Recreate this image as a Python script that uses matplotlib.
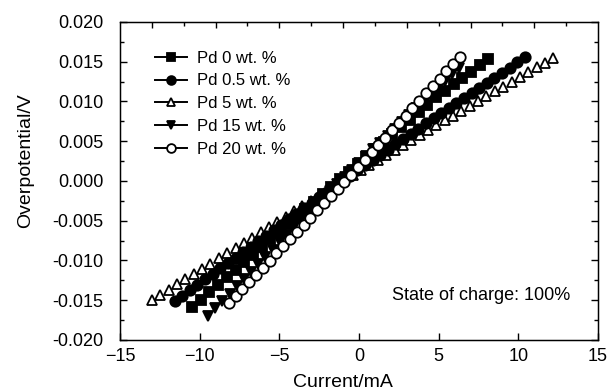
import matplotlib
matplotlib.use('Agg')
import matplotlib.pyplot as plt
from matplotlib.lines import Line2D
from matplotlib.ticker import MultipleLocator, FixedLocator, NullFormatter

plt.rcParams['font.family'] = ['Liberation Sans', 'DejaVu Sans']
plt.rcParams['font.size'] = 13

# Pd 0 wt. %
i_pd0 = [-10.48, -9.93, -9.39, -8.84, -8.29, -7.75, -7.20, -6.65, -6.10, -5.56,
         -5.01, -4.46, -3.92, -3.37, -2.82, -2.28, -1.73, -1.18, -0.64, -0.09,
         0.46, 1.00, 1.55, 2.10, 2.65, 3.19, 3.74, 4.29, 4.83, 5.38,
         5.93, 6.47, 7.02, 7.57, 8.12]
v_pd0 = [-0.01588, -0.01493, -0.01400, -0.01304, -0.01209, -0.01116, -0.01021,
         -0.00926, -0.00830, -0.00737, -0.00642, -0.00547, -0.00453, -0.00358,
         -0.00263, -0.00170, -0.00074, 0.00021, 0.00114, 0.00208, 0.00303,
         0.00396, 0.00490, 0.00585, 0.00679, 0.00772, 0.00867, 0.00961,
         0.01054, 0.01135, 0.01216, 0.01295, 0.01376, 0.01457, 0.01538]

# Pd 0.5 wt. %
i_pd05 = [-11.57, -11.09, -10.61, -10.14, -9.66, -9.18, -8.70, -8.23, -7.75, -7.27,
          -6.79, -6.31, -5.84, -5.36, -4.88, -4.40, -3.93, -3.45, -2.97, -2.49,
          -2.01, -1.54, -1.06, -0.58, -0.10, 0.38, 0.86, 1.33, 1.81, 2.29,
          2.77, 3.24, 3.72, 4.20, 4.68, 5.16, 5.63, 6.11, 6.59, 7.07,
          7.55, 8.02, 8.50, 8.98, 9.46, 9.94, 10.42]
v_pd05 = [-0.01515, -0.01446, -0.01377, -0.01309, -0.01240, -0.01171, -0.01102,
          -0.01034, -0.00965, -0.00896, -0.00827, -0.00757, -0.00690, -0.00621,
          -0.00552, -0.00482, -0.00415, -0.00346, -0.00276, -0.00207, -0.00138,
          -0.00071, -0.00001, 0.00065, 0.00131, 0.00197, 0.00264, 0.00328,
          0.00395, 0.00461, 0.00527, 0.00592, 0.00658, 0.00725, 0.00791,
          0.00855, 0.00917, 0.00981, 0.01045, 0.01109, 0.01173, 0.01235,
          0.01299, 0.01363, 0.01426, 0.01490, 0.01554]

# Pd 5 wt. %
i_pd5 = [-13.0, -12.47, -11.95, -11.42, -10.9, -10.37, -9.85, -9.32, -8.8, -8.27,
         -7.75, -7.22, -6.7, -6.17, -5.65, -5.12, -4.6, -4.07, -3.55, -3.02,
         -2.5, -1.97, -1.45, -0.92, -0.4, 0.13, 0.65, 1.18, 1.7, 2.23,
         2.75, 3.28, 3.8, 4.33, 4.85, 5.38, 5.9, 6.43, 6.95, 7.48,
         8.0, 8.53, 9.05, 9.58, 10.1, 10.63, 11.15, 11.68, 12.2]
v_pd5 = [-0.01500, -0.01434, -0.01369, -0.01303, -0.01238, -0.01171, -0.01106,
         -0.01040, -0.00975, -0.00909, -0.00844, -0.00778, -0.00713, -0.00646,
         -0.00581, -0.00515, -0.00450, -0.00384, -0.00319, -0.00253, -0.00188,
         -0.00121, -0.00056, 0.00010, 0.00072, 0.00136, 0.00198, 0.00262,
         0.00324, 0.00388, 0.00450, 0.00514, 0.00576, 0.00640, 0.00700,
         0.00761, 0.00821, 0.00882, 0.00943, 0.01004, 0.01064, 0.01125,
         0.01186, 0.01247, 0.01307, 0.01368, 0.01428, 0.01489, 0.01550]

# Pd 15 wt. %
i_pd15 = [-9.47, -9.02, -8.57, -8.12, -7.67, -7.22, -6.77, -6.32, -5.87, -5.42,
          -4.96, -4.51, -4.06, -3.61, -3.16, -2.71, -2.26, -1.81, -1.36, -0.91,
          -0.46, -0.01, 0.44, 0.89, 1.34, 1.80, 2.25, 2.70, 3.15, 3.60,
          4.05, 4.50, 4.95, 5.40, 5.85, 6.30]
v_pd15 = [-0.01695, -0.01603, -0.01511, -0.01419, -0.01326, -0.01234, -0.01142,
          -0.01050, -0.00957, -0.00865, -0.00771, -0.00679, -0.00586, -0.00494,
          -0.00402, -0.00310, -0.00217, -0.00125, -0.00033, 0.00055, 0.00141,
          0.00226, 0.00312, 0.00397, 0.00483, 0.00570, 0.00656, 0.00741,
          0.00827, 0.00912, 0.00998, 0.01083, 0.01169, 0.01254, 0.01340, 0.01425]

# Pd 20 wt. %
i_pd20 = [-8.17, -7.74, -7.32, -6.89, -6.46, -6.04, -5.61, -5.18, -4.76, -4.33,
          -3.90, -3.48, -3.05, -2.62, -2.20, -1.77, -1.34, -0.92, -0.49, -0.06,
          0.37, 0.79, 1.22, 1.65, 2.07, 2.50, 2.93, 3.35, 3.78, 4.21,
          4.63, 5.06, 5.49, 5.91, 6.34]
v_pd20 = [-0.01542, -0.01452, -0.01363, -0.01272, -0.01182, -0.01093, -0.01002,
          -0.00912, -0.00823, -0.00732, -0.00641, -0.00553, -0.00462, -0.00371,
          -0.00283, -0.00192, -0.00101, -0.00013, 0.00080, 0.00174, 0.00267,
          0.00358, 0.00451, 0.00545, 0.00636, 0.00729, 0.00822, 0.00914,
          0.01007, 0.01100, 0.01191, 0.01285, 0.01378, 0.01469, 0.01562]

labels = ['Pd 0 wt. %', 'Pd 0.5 wt. %', 'Pd 5 wt. %', 'Pd 15 wt. %', 'Pd 20 wt. %']
markers = ['s', 'o', '^', 'v', 'o']
fills = ['black', 'black', 'white', 'black', 'white']
series = [(i_pd0, v_pd0), (i_pd05, v_pd05), (i_pd5, v_pd5),
          (i_pd15, v_pd15), (i_pd20, v_pd20)]

fig = plt.figure(figsize=(6.09, 3.92), dpi=100)
ax = fig.add_axes([0.197, 0.133, 0.785, 0.811])

# draw order so open circles and triangles sit on top like the original
order = [2, 1, 0, 3, 4]
for k in order:
    x, y = series[k]
    ax.plot(x, y, linestyle='none', marker=markers[k], markersize=7.5,
            markerfacecolor=fills[k], markeredgecolor='black',
            markeredgewidth=1.3)

handles = [Line2D([0], [0], color='black', lw=1.4, marker=markers[k],
                  markersize=6.3, markerfacecolor=fills[k],
                  markeredgecolor='black', markeredgewidth=1.3)
           for k in range(5)]
leg = ax.legend(handles, labels, loc='upper left',
                bbox_to_anchor=(0.073, 0.91), frameon=False,
                borderpad=0, borderaxespad=0, handlelength=1.9,
                handletextpad=0.65, labelspacing=0.47, fontsize=12)

ax.text(0.941, 0.138, 'State of charge: 100%', transform=ax.transAxes,
        ha='right', va='center', fontsize=13)

ax.set_xlim(-15, 15)
ax.set_ylim(-0.02, 0.02)
ax.xaxis.set_major_locator(MultipleLocator(5))
ax.yaxis.set_major_locator(MultipleLocator(0.005))
ax.yaxis.set_minor_locator(MultipleLocator(0.0025))
ax.yaxis.set_major_formatter(plt.FuncFormatter(lambda v, p: '%.3f' % v))
ax.tick_params(axis='both', which='major', direction='in', length=5,
               width=1, labelsize=13)
ax.tick_params(axis='y', which='both', direction='in', right=True)
ax.tick_params(axis='y', which='minor', length=3, width=1)
ax.tick_params(axis='y', which='major', pad=12)
ax.tick_params(axis='x', which='major', pad=6)
for s in ax.spines.values():
    s.set_linewidth(1.0)

top = ax.twiny()
top.set_xlim(ax.get_xlim())
top.xaxis.set_major_locator(FixedLocator([-13, -9, -5, -1, 3, 7, 11]))
top.xaxis.set_minor_locator(FixedLocator([-11, -7, -3, 1, 5, 9, 13]))
top.xaxis.set_major_formatter(NullFormatter())
top.tick_params(axis='x', which='major', direction='in', length=4, width=1)
top.tick_params(axis='x', which='minor', direction='in', length=3, width=1)

ax.set_xlabel('Current/mA', fontsize=14)
ax.set_ylabel('Overpotential/V', fontsize=14)
ax.xaxis.label.set_va('bottom')
ax.xaxis.set_label_coords(0.466, -0.16)
ax.yaxis.set_label_coords(-0.18, 0.563)

fig.savefig('out.png', dpi=100)
